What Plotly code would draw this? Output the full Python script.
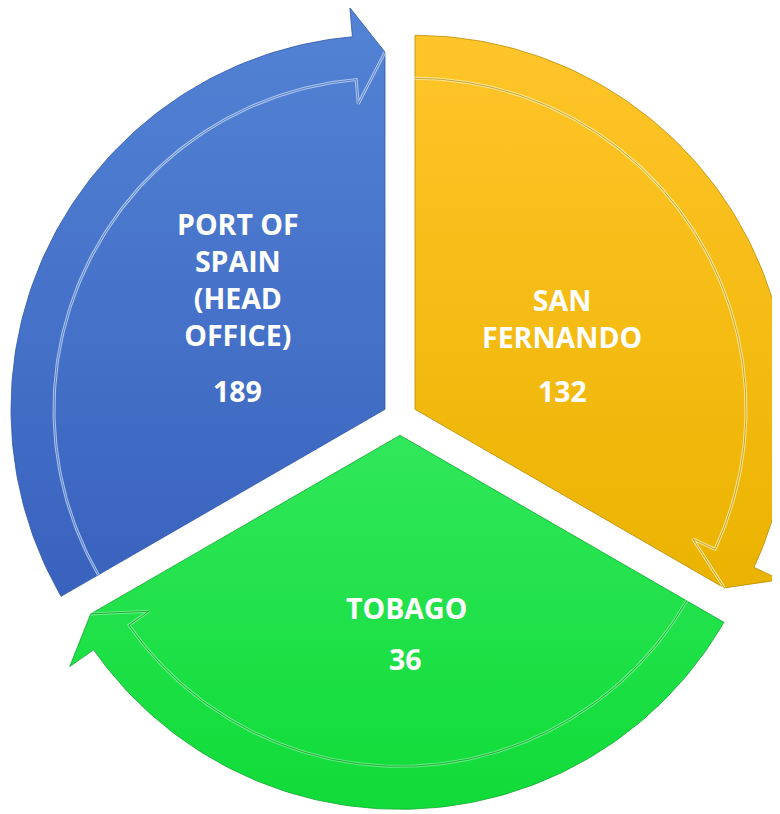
import numpy as np
import plotly.graph_objects as go

# ---- data ----
categories = ["PORT OF<br>SPAIN<br>(HEAD<br>OFFICE)", "SAN<br>FERNANDO", "TOBAGO"]
staff_counts = [189, 132, 36]

# ---- style / layout constants ----
W, H = 780, 814
PAGE_OFF = 8.0           # page body margin in the viewer
SCALE = 374.0            # px per unit radius
CX, CY = 400.0 - PAGE_OFF, 418.0 - PAGE_OFF   # px position of the diagram centre
PULL = 0.0463            # explode distance (unit radius)
R_RIM = 0.885            # inner edge of the arrow band
R_TIP = 0.955            # arrow tip radius
R_BARB_OUT, R_BARB_IN = 1.078, 0.82
HEAD_DEG = 5.0           # angular length of arrow head
START_DEG = 210.0

grad_colors = [("#3962BD", "#5383D5"),   # (bottom, top)
               ("#EBB300", "#FFC52A"),
               ("#10DB38", "#30E75A")]
edge_colors = ["#2F55A8", "#B98C00", "#0EA82E"]
rim_light = ["rgba(200,225,255,0.75)", "rgba(255,240,170,0.8)", "rgba(150,255,170,0.6)"]
rim_dark = ["rgba(40,70,150,0.7)", "rgba(150,110,0,0.7)", "rgba(10,120,30,0.8)"]
name_pos = [(237.5, 279.0), (562.0, 318.0), (406.0, 608.0)]   # px in reference
value_pos = [(237.5, 391.0), (562.0, 391.0), (405.0, 659.0)]  # px in reference
FONT = "Open Sans"
FONT_SIZE = 28.5


def px_to_unit(px, py):
    return (px - PAGE_OFF - CX) / SCALE, (CY - (py - PAGE_OFF)) / SCALE


def pol(r, deg, off):
    a = np.deg2rad(deg)
    return off[0] + r * np.cos(a), off[1] + r * np.sin(a)


fig = go.Figure()
n = len(categories)
span = 360.0 / n
annotations = []
for i, (cat, val) in enumerate(zip(categories, staff_counts)):
    a0 = START_DEG - i * span
    a1 = a0 - span
    mid = np.deg2rad((a0 + a1) / 2)
    off = (PULL * np.cos(mid), PULL * np.sin(mid))

    xs, ys = [off[0]], [off[1]]
    for d in np.linspace(a0, a1 + HEAD_DEG, 120):
        x, y = pol(1.0, d, off); xs.append(x); ys.append(y)
    x, y = pol(R_BARB_OUT, a1 + HEAD_DEG, off); xs.append(x); ys.append(y)
    x, y = pol(R_TIP, a1, off); xs.append(x); ys.append(y)
    xs.append(off[0]); ys.append(off[1])

    ymin, ymax = min(ys), max(ys)
    fig.add_trace(go.Scatter(
        x=xs, y=ys, mode="lines", fill="toself",
        line=dict(color=edge_colors[i], width=0.8),
        fillgradient=dict(type="vertical", start=ymin, stop=ymax,
                          colorscale=[[0, grad_colors[i][0]], [1, grad_colors[i][1]]]),
        hoverinfo="skip", showlegend=False, name=cat.replace("<br>", " ")))

    # inner rim of arrow band + lower edge of arrow head
    rx, ry = [], []
    for d in np.linspace(a0, a1 + HEAD_DEG, 120):
        x, y = pol(R_RIM, d, off); rx.append(x); ry.append(y)
    x, y = pol(R_BARB_IN, a1 + HEAD_DEG, off); rx.append(x); ry.append(y)
    x, y = pol(R_TIP, a1, off); rx.append(x); ry.append(y)
    fig.add_trace(go.Scatter(x=rx, y=ry, mode="lines",
                             line=dict(color=rim_light[i], width=3),
                             hoverinfo="skip", showlegend=False))
    fig.add_trace(go.Scatter(x=rx, y=ry, mode="lines",
                             line=dict(color=rim_dark[i], width=0.8),
                             hoverinfo="skip", showlegend=False))

    nx, ny = px_to_unit(*name_pos[i])
    vx, vy = px_to_unit(*value_pos[i])
    annotations.append(dict(x=nx, y=ny, xref="x", yref="y", text=cat, showarrow=False,
                            xanchor="center", yanchor="middle", align="center",
                            font=dict(family=FONT, size=FONT_SIZE, color="white", weight="bold")))
    annotations.append(dict(x=vx, y=vy, xref="x", yref="y", text=str(val), showarrow=False,
                            xanchor="center", yanchor="middle", align="center",
                            font=dict(family=FONT, size=FONT_SIZE, color="white", weight="bold")))

fig.update_layout(
    width=W, height=H, margin=dict(l=0, r=0, t=0, b=0),
    paper_bgcolor="white", plot_bgcolor="white",
    xaxis=dict(range=[-CX / SCALE, (W - CX) / SCALE], visible=False, fixedrange=True),
    yaxis=dict(range=[(CY - H) / SCALE, CY / SCALE], visible=False, fixedrange=True),
    annotations=annotations, showlegend=False,
)
fig.write_html("out.html")
